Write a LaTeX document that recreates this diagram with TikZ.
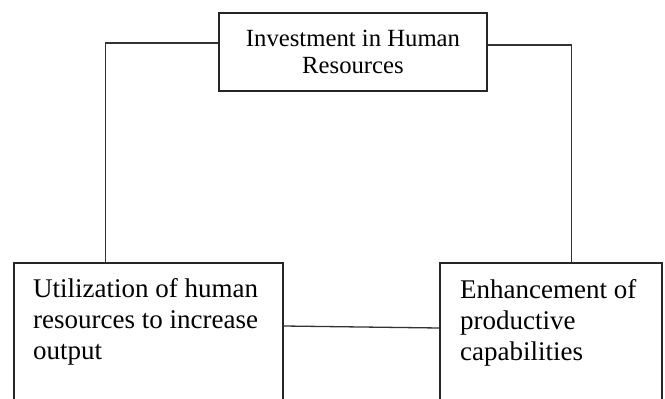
\documentclass[tikz,border=0pt]{standalone}
\usepackage{fontspec}
\setmainfont{Liberation Serif}
\begin{document}
\begin{tikzpicture}[x=1pt,y=-1pt,
  boxline/.style={draw=black!85,line width=1.3pt},
  frame/.style={boxline,rectangle,inner sep=0pt},
  link/.style={draw=black!80,line width=1.3pt},
  toptext/.style={font=\fontsize{24.7}{27}\selectfont,align=center},
  bottext/.style={font=\fontsize{27}{31}\selectfont,align=left,anchor=north west,inner sep=0pt}]
\clip (0,0) rectangle (665,399);
\node[frame,minimum width=268pt,minimum height=78pt,toptext] (top) at (353,52) {Investment in Human\\Resources};
\node[frame,minimum width=269pt,minimum height=167pt] (lbox) at (148.5,346.5) {};
\node[frame,minimum width=222pt,minimum height=167pt] (rbox) at (551,346.5) {};
\node[bottext] (ltext) at (33,278.5) {Utilization of human\\resources to increase\\output};
\node[bottext] (rtext) at (460,279.5) {Enhancement of\\productive\\capabilities};
\draw[link] ([yshift=9pt]top.west) -| ([xshift=92pt]lbox.north west);
\draw[link] ([yshift=7pt]top.east) -| ([xshift=-91pt]rbox.north east);
\draw[link] ([yshift=20.5pt]lbox.east) -- ([yshift=18.5pt]rbox.west);
\end{tikzpicture}
\end{document}
